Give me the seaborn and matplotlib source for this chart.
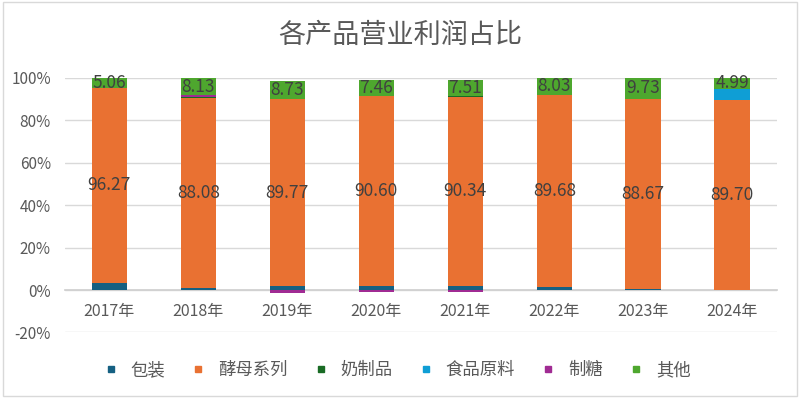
import pandas as pd
import numpy as np
import matplotlib
matplotlib.use('Agg')
import matplotlib.pyplot as plt
import seaborn as sns
from matplotlib.lines import Line2D
from matplotlib.ticker import FuncFormatter

# 数据 (营业利润占比, 原始数值)
years = ['2017年', '2018年', '2019年', '2020年', '2021年', '2022年', '2023年', '2024年']
baozhuang = [3.5, 1.1, 2.0, 2.0, 2.0, 1.3, 0.5, -0.2]
jiaomu = [96.27, 88.08, 89.77, 90.60, 90.34, 89.68, 88.67, 89.70]
naizhipin = [0.0, 0.5, 0.3, 0.2, 0.5, 0.2, 0.0, 0.0]
shipin = [0.0, 0.0, 0.0, 0.0, 0.0, 0.0, 0.0, 5.4]
zhitang = [0.0, 0.6, -1.4, -1.0, -1.0, 0.0, 0.3, 0.0]
qita = [5.06, 8.13, 8.73, 7.46, 7.51, 8.03, 9.73, 4.99]

series_names = ['包装', '酵母系列', '奶制品', '食品原料', '制糖', '其他']
colors = ['#156082', '#E97132', '#196B24', '#0F9ED5', '#A02B93', '#4EA72E']

df = pd.DataFrame({'包装': baozhuang, '酵母系列': jiaomu, '奶制品': naizhipin,
                   '食品原料': shipin, '制糖': zhitang, '其他': qita}, index=years)

# 100% 堆积: 按绝对值之和归一化
shares = df.div(df.abs().sum(axis=1), axis=0)
pos = shares.clip(lower=0).cumsum(axis=1)
neg = shares.clip(upper=0).cumsum(axis=1)

sns.set_theme(style='white')
plt.rcParams['font.family'] = ['Noto Sans CJK SC', 'DejaVu Sans']

fig = plt.figure(figsize=(8, 3.98), dpi=100)
ax = fig.add_axes([0.081, 0.1646, 0.89, 0.64])

# 从上往下画累计高度, 后画的覆盖先画的
for name, c in reversed(list(zip(series_names, colors))):
    sns.barplot(x=years, y=pos[name].values, color=c, width=0.4, saturation=1,
                linewidth=0, ax=ax, zorder=3)
for name, c in reversed(list(zip(series_names, colors))):
    sns.barplot(x=years, y=neg[name].values, color=c, width=0.4, saturation=1,
                linewidth=0, ax=ax, zorder=3)

# 数据标签
for i, y in enumerate(years):
    yc = pos.loc[y, '酵母系列'] - shares.loc[y, '酵母系列'] / 2
    ax.text(i, yc, f"{df.loc[y, '酵母系列']:.2f}", ha='center', va='center',
            fontsize=12.5, color='#404040', zorder=5)
    yc = pos.loc[y, '其他'] - shares.loc[y, '其他'] / 2
    ax.text(i, yc, f"{df.loc[y, '其他']:.2f}", ha='center', va='center',
            fontsize=12.5, color='#404040', zorder=5)

ax.set_xlim(-0.5, 7.5)
ax.set_ylim(-0.2, 1.0)
ax.set_yticks(np.arange(-0.2, 1.01, 0.2))
ax.yaxis.set_major_formatter(FuncFormatter(lambda v, p: f"{v * 100:.0f}%"))
ax.grid(axis='y', color='#D9D9D9', linewidth=1, zorder=0)
ax.set_axisbelow(True)
for s in ['top', 'right', 'left']:
    ax.spines[s].set_visible(False)
ax.spines['bottom'].set_position(('data', 0))
ax.spines['bottom'].set_color('#D0D0D0')
ax.spines['bottom'].set_zorder(2)
ax.tick_params(axis='x', length=0, pad=9, labelsize=11.5, labelcolor='#595959')
ax.tick_params(axis='y', length=0, pad=10, labelsize=11, labelcolor='#595959')
ax.set_xlabel('')
ax.set_ylabel('')

fig.text(0.5, 0.912, '各产品营业利润占比', ha='center', va='center',
         fontsize=19.5, color='#595959')

handles = [Line2D([], [], marker='s', linestyle='', color=c, markersize=5)
           for c in colors]
fig.legend(handles, series_names, loc='center', bbox_to_anchor=(0.497, 0.07),
           ncol=6, frameon=False, fontsize=12.5, handlelength=0.7,
           handletextpad=0.8, columnspacing=1.55, labelcolor='#595959')

fig.patches.append(plt.Rectangle((0.004, 0.004), 0.992, 0.992, transform=fig.transFigure,
                                 fill=False, edgecolor='#D9D9D9', linewidth=1))

fig.savefig('out.png', dpi=100)
